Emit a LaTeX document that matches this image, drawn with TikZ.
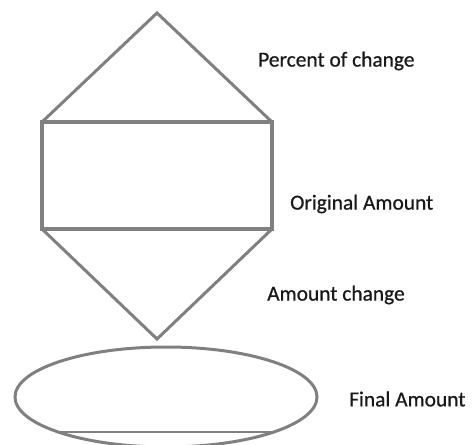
\documentclass[tikz,border=0pt]{standalone}
\usepackage{fontspec}
\setmainfont{Carlito}
\newfontfamily\lblfont[FakeBold=0.7]{Carlito}
\usetikzlibrary{positioning}

\begin{document}
\begin{tikzpicture}[
      x=1bp, y=-1bp,
      outline/.style={draw=black!50, line width=3bp, line join=miter},
      thickline/.style={draw=black!50, line width=4.5bp},
      label/.style={anchor=west, inner sep=0pt, text=black!90,
          font=\lblfont\fontsize{21.5}{24}\selectfont}
    ]
    \useasboundingbox (0,0) rectangle (475,445);
    \clip (0,0) rectangle (475,445);

    % corner points
    \coordinate (apextop) at (157,13);
    \coordinate (tl) at (42,122);
    \coordinate (tr) at (272,122);
    \coordinate (bl) at (42,229);
    \coordinate (br) at (272,229);
    \coordinate (apexbot) at (157,339);

    % shapes
    \draw[outline] (tl) -- (apextop) -- (tr);
    \draw[thickline] (tl) rectangle (br);
    \draw[outline] (bl) -- (apexbot) -- (br);
    \draw[outline] (166,397) ellipse [x radius=151, y radius=50];
    \coordinate (fl) at (58,432);
    \coordinate (fr) at (274,432);
    \draw[draw=black!50, line width=2bp] (fl) -- (fr);

    % labels
    \node[label] (pct) at (258,61) {Percent of change};
    \node[label] (orig) at (290,204) {Original Amount};
    \node[label] (chg) at (267,295) {Amount change};
    \node[label] (fin) at (349,399) {Final Amount};
  \end{tikzpicture}
\end{document}
